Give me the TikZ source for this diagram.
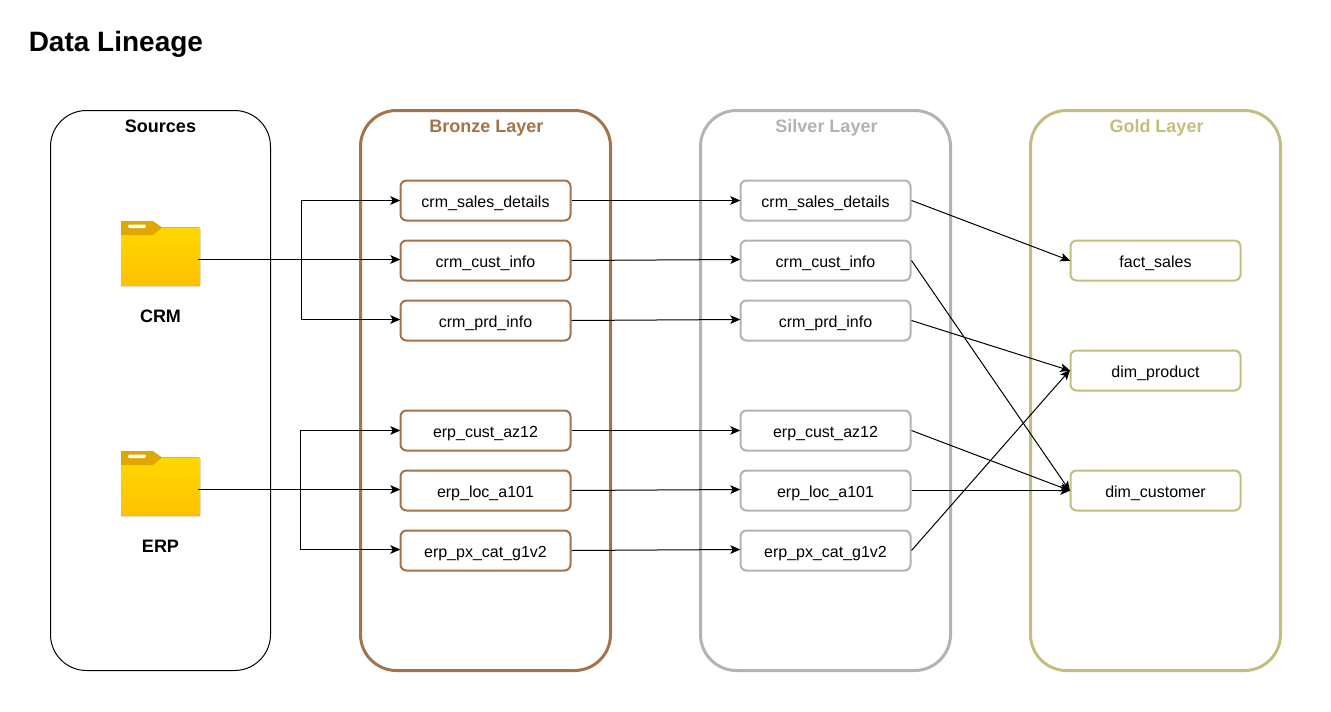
\documentclass[tikz,border=0pt]{standalone}
\usepackage{fontspec}
\setmainfont{Liberation Sans}
\usetikzlibrary{arrows.meta,calc}
\definecolor{bronzec}{HTML}{A5734A}
\definecolor{silverc}{HTML}{B3B3B3}
\definecolor{goldc}{HTML}{C4BE7E}
\definecolor{foldertop}{HTML}{FFD800}
\definecolor{folderbot}{HTML}{FFC000}
\definecolor{foldertab}{HTML}{E0A700}
\tikzset{
  px/.style={x=0.75pt,y=-0.75pt},
  layerbox/.style={draw=#1,line width=2.25pt,rounded corners=27pt,minimum width=187.5pt,minimum height=420pt,inner sep=0pt,fill=white},
  srcbox/.style={draw=black,line width=0.75pt,rounded corners=27pt,minimum width=165pt,minimum height=420pt,inner sep=0pt,fill=white},
  layertitle/.style={font=\fontsize{13.5}{16}\selectfont\bfseries,text=#1,inner sep=0pt,anchor=base},
  tablebox/.style={draw=#1,line width=1.5pt,rounded corners=4.5pt,minimum width=127.5pt,minimum height=30pt,inner sep=0pt,font=\fontsize{12}{14}\selectfont,fill=white,text height=12pt,text depth=2.2pt},
  link/.style={draw=black,line width=0.75pt,shorten >=-0.6pt,-{Stealth[length=7.5pt,width=6.5pt,inset=1.8pt]}},
  srclabel/.style={font=\fontsize{13.5}{16}\selectfont\bfseries,inner sep=0pt,anchor=base},
  hidden/.style={inner sep=0pt,minimum width=60pt,minimum height=49pt}
}
\newcommand{\folder}[2]{%
  \begin{scope}[shift={(#1,#2)}]
    \fill[rounded corners=0.7pt,top color=foldertop,bottom color=folderbot] (0,6.5) -- (79,6.5) -- (79,65) -- (0,65) -- cycle;
    \fill[foldertab] (0,0) -- (32,0) -- (41,6.5) -- (32,14) -- (0,14) -- cycle;
    \fill[white,rounded corners=1pt] (7,3.5) rectangle (25,7);
  \end{scope}}
\begin{document}
\begin{tikzpicture}[px]
\useasboundingbox (0,0) rectangle (1331,711);
\fill[white] (0,0) rectangle (1331,711);
\node[anchor=base west,inner sep=0pt,font=\fontsize{21}{25}\selectfont\bfseries] (title) at (28.5,51) {Data Lineage};
% layers
\node[srcbox] (sources) at (160.5,390.5) {};
\node[layerbox=bronzec] (bronze) at (485.5,390.5) {};
\node[layerbox=silverc] (silver) at (825.5,390.5) {};
\node[layerbox=goldc] (gold) at (1155.5,390.5) {};
\node[layertitle=black] (sourcest) at (160.5,132) {Sources};
\node[layertitle=bronzec] (bronzet) at (486.5,132) {Bronze Layer};
\node[layertitle=silverc] (silvert) at (826.5,132) {Silver Layer};
\node[layertitle=goldc] (goldt) at (1156.5,132) {Gold Layer};
% folders
\folder{121}{221}
\folder{121}{451}
\node[hidden] (crm) at (160.5,253.5) {};
\node[hidden] (erp) at (160.5,483.5) {};
\node[srclabel] (crmt) at (160.5,322) {CRM};
\node[srclabel] (erpt) at (160.5,552) {ERP};
\coordinate (crmout) at (198,259.5);
\coordinate (erpout) at (198,489.5);
\coordinate (crmj) at (301,259.5);
\coordinate (erpj) at (300.5,489.5);
% bronze tables
\node[tablebox=bronzec] (b1) at (485.5,200.5) {crm\_sales\_details};
\node[tablebox=bronzec] (b2) at (485.5,260.5) {crm\_cust\_info};
\node[tablebox=bronzec] (b3) at (485.5,320.5) {crm\_prd\_info};
\node[tablebox=bronzec] (b4) at (485.5,430.5) {erp\_cust\_az12};
\node[tablebox=bronzec] (b5) at (485.5,490.5) {erp\_loc\_a101};
\node[tablebox=bronzec] (b6) at (485.5,550.5) {erp\_px\_cat\_g1v2};
% silver tables
\node[tablebox=silverc] (s1) at (825.5,200.5) {crm\_sales\_details};
\node[tablebox=silverc] (s2) at (825.5,260.5) {crm\_cust\_info};
\node[tablebox=silverc] (s3) at (825.5,320.5) {crm\_prd\_info};
\node[tablebox=silverc] (s4) at (825.5,430.5) {erp\_cust\_az12};
\node[tablebox=silverc] (s5) at (825.5,490.5) {erp\_loc\_a101};
\node[tablebox=silverc] (s6) at (825.5,550.5) {erp\_px\_cat\_g1v2};
% gold tables
\node[tablebox=goldc] (g1) at (1155.5,260.5) {fact\_sales};
\node[tablebox=goldc] (g2) at (1155.5,370.5) {dim\_product};
\node[tablebox=goldc] (g3) at (1155.5,490.5) {dim\_customer};
% source connectors
\draw[link] (crmout) -- (crmout -| b2.west);
\draw[link] (crmj) |- (b1.west);
\draw[link] (crmj) |- ($(b3.west)+(0,-1)$);
\draw[link] (erpout) -- (erpout -| b5.west);
\draw[link] (erpj) |- (b4.west);
\draw[link] (erpj) |- ($(b6.west)+(0,-1)$);
% bronze to silver
\draw[link] (b1.east) -- (s1.west);
\draw[link] (b2.east) -- ($(s2.west)+(0,-1)$);
\draw[link] (b3.east) -- ($(s3.west)+(0,-1)$);
\draw[link] (b4.east) -- (s4.west);
\draw[link] (b5.east) -- ($(s5.west)+(0,-1)$);
\draw[link] (b6.east) -- ($(s6.west)+(0,-1)$);
% silver to gold
\draw[link] (s1.east) -- (g1.west);
\draw[link] (s2.east) -- (g3.west);
\draw[link] (s3.east) -- (g2.west);
\draw[link] (s4.east) -- (g3.west);
\draw[link] (s5.east) -- (g3.west);
\draw[link] (s6.east) -- (g2.west);
\end{tikzpicture}
\end{document}
